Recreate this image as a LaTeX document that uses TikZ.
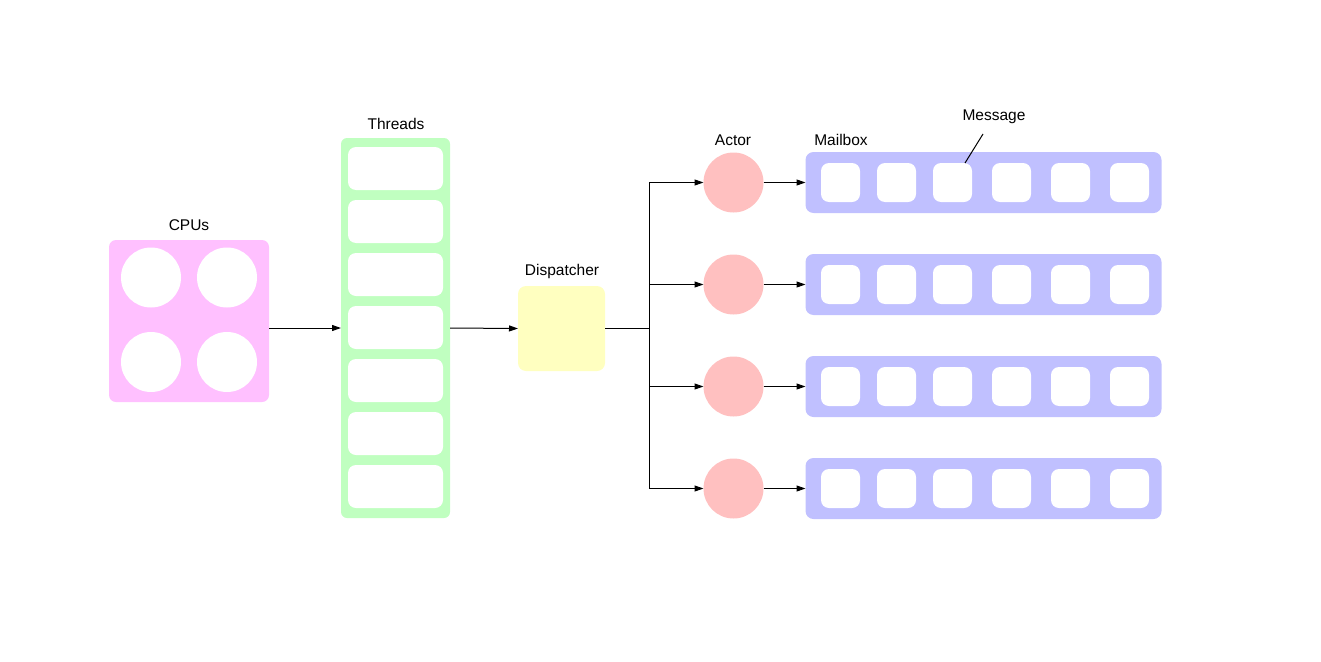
\documentclass[tikz,border=0pt]{standalone}
\usepackage{fontspec}
\setmainfont{Liberation Sans}
\usetikzlibrary{arrows.meta}

\definecolor{cpupink}{HTML}{FFC0FF}
\definecolor{threadgreen}{HTML}{C0FFC0}
\definecolor{dispyellow}{HTML}{FFFFC0}
\definecolor{actorred}{HTML}{FFC0C0}
\definecolor{mailblue}{HTML}{C0C0FF}

\begin{document}
\begin{tikzpicture}[x=1pt,y=-1pt,
        every node/.style={inner sep=0pt,outer sep=0pt},
        lbl/.style={font=\fontsize{15.5}{18}\selectfont},
        cpubox/.style={fill=cpupink,rounded corners=7pt,minimum width=160pt,minimum height=162pt},
        core/.style={circle,fill=white,minimum size=60pt},
        threadbox/.style={fill=threadgreen,rounded corners=6pt,minimum width=109pt,minimum height=380pt},
        slot/.style={fill=white,rounded corners=8pt,minimum width=95pt,minimum height=43pt},
        dispbox/.style={fill=dispyellow,rounded corners=8pt,minimum width=87pt,minimum height=85pt},
        actor/.style={circle,fill=actorred,minimum size=60pt},
        mailbox/.style={fill=mailblue,rounded corners=8pt,minimum width=356pt,minimum height=61pt},
        msg/.style={fill=white,rounded corners=8pt,minimum size=39pt},
        arr/.style={-{Triangle[length=9pt,width=6pt]},line width=1pt}]

    \useasboundingbox (0,0) rectangle (1321,661);

    \node[cpubox] (cpus) at (189,321) {};
    \foreach \x/\y [count=\i] in {151/277.5,227/277.5,151/362,227/362}
        \node[core] (core\i) at (\x,\y) {};
    \node[lbl] (cpuslbl) at (189,225) {CPUs};

    \node[threadbox] (threads) at (395.5,328) {};
    \foreach \i in {0,...,6}
        \node[slot] (slot\i) at (395.5,168.5+53*\i) {};
    \node[lbl] (threadslbl) at (396,124) {Threads};

    \node[dispbox] (dispatcher) at (561.5,328.5) {};
    \node[lbl] (displbl) at (562,271) {Dispatcher};

    \coordinate (split) at (649,328);

    \foreach \i in {1,...,4}{
        \node[actor] (actor\i) at (733.5,80.5+102*\i) {};
        \node[mailbox] (mailbox\i) at (983.5,80.5+102*\i) {};
        \foreach \x [count=\j] in {840.5,896.5,952.5,1011.5,1070.5,1129.5}
            \node[msg] (msg\i-\j) at (\x,80.5+102*\i) {};
        \draw[arr] (dispatcher.east |- split) -- (split) |- (actor\i.west);
        \draw[arr] (actor\i) -- (mailbox\i);
    }
    \node[lbl] (actorlbl) at (733,140) {Actor};
    \node[lbl] (mailboxlbl) at (841,140) {Mailbox};
    \node[lbl] (msglbl) at (994,117) {Message};
    \coordinate (msgtick) at (983,134);
    \draw[line width=1pt] (msgtick) -- ([xshift=-7pt]msg1-3.north east);

    \draw[arr] (cpus.east |- threads) -- (threads.west);
    \draw[arr] (threads.east) -- (dispatcher.west);
\end{tikzpicture}
\end{document}
